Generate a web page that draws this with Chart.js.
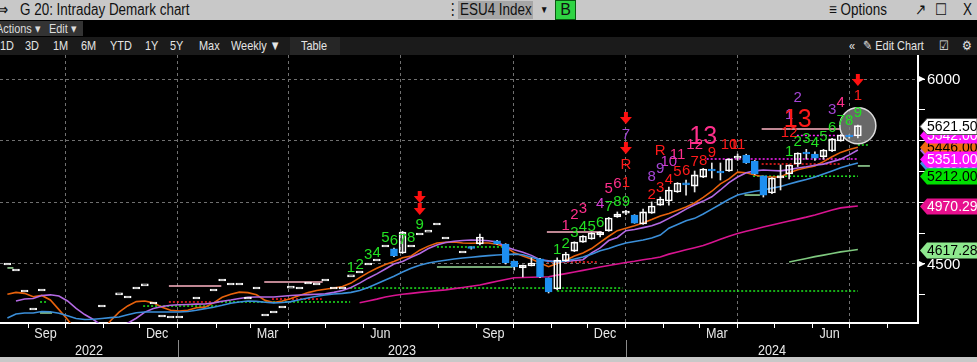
<!DOCTYPE html>
<html>
<head>
<meta charset="utf-8">
<script src="https://cdn.jsdelivr.net/npm/chart.js@4.4.1/dist/chart.umd.min.js"></script>
<style>
  html, body { margin: 0; padding: 0; background: #000; }
  #wrap { position: relative; width: 977px; height: 362px; overflow: hidden; background: #000;
          font-family: "Liberation Sans Narrow", "Liberation Sans", sans-serif; }
  .bar { position: absolute; left: 0; width: 977px; }
  #title { top: 0; height: 20px; background: #c8c8c8; color: #111; font-size: 16px; }
  #menu { top: 20px; height: 17px; background: #000; color: #ddd; font-size: 13px; }
  #tools { top: 37px; height: 18px; background: #1b1b1b; color: #e4e4e4; font-size: 13px; }
  #foot { top: 357px; height: 5px; background: #c8c8c8; }
  .t { position: absolute; white-space: nowrap; line-height: 18px; transform: scaleX(0.84); transform-origin: left center; }
  .box { position: absolute; white-space: nowrap; overflow: hidden; }
  .box span { display: inline-block; transform: scaleX(0.84); transform-origin: left center; }
  #chartBox { position: absolute; left: 0; top: 55px; width: 977px; height: 302px; }
</style>
</head>
<body>
<div id="wrap">
  <div class="bar" id="title">
    <span class="t" style="left:-3px;top:1px">&#8658;</span>
    <span class="t" style="left:20px;top:1px">G 20: Intraday Demark chart</span>
    <span class="t" style="left:446px;top:1px">&#8942;</span>
    <span class="box" style="left:458px;top:1px;width:73px;height:18px;background:#a6a6a6;line-height:18px;padding-left:2px"><span>ESU4 Index</span></span>
    <span class="t" style="left:540px;top:1px;font-size:10px">&#9660;</span>
    <span class="box" style="left:555px;top:0px;width:19px;height:18px;background:#2fd443;border:1px solid #0a5a12;text-align:center;line-height:18px">B</span>
    <span class="t" style="left:829px;top:1px">&#8801; Options</span>
    <span class="t" style="left:915px;top:1px">&#8599;</span>
    <span class="t" style="left:935px;top:1px">&#9744;</span>
    <span class="t" style="left:963px;top:1px">X</span>
  </div>
  <div class="bar" id="menu">
    <span class="box" style="left:-6px;top:1px;width:51px;height:15px;background:#333;line-height:15px;padding-left:2px"><span>Actions &#9662;</span></span>
    <span class="box" style="left:47px;top:1px;width:34px;height:15px;background:#333;line-height:15px;padding-left:2px"><span>Edit &#9662;</span></span>
  </div>
  <div class="bar" id="tools">
    <span class="t" style="left:0px">1D</span>
    <span class="t" style="left:25px">3D</span>
    <span class="t" style="left:53px">1M</span>
    <span class="t" style="left:81px">6M</span>
    <span class="t" style="left:110px">YTD</span>
    <span class="t" style="left:145px">1Y</span>
    <span class="t" style="left:170px">5Y</span>
    <span class="t" style="left:199px">Max</span>
    <span class="t" style="left:231px">Weekly &#9660;</span>
    <span class="box" style="left:290px;top:0;width:50px;height:18px;background:#262626;line-height:18px;padding-left:11px;box-sizing:border-box"><span>Table</span></span>
    <span class="t" style="left:849px">&#171;</span>
    <span class="t" style="left:863px">&#9998; Edit Chart</span>
    <span class="t" style="left:939px">&#9745;</span>
    <span class="t" style="left:962px">&#9881;</span>
  </div>
  <div id="chartBox"><canvas id="c" width="977" height="302"></canvas></div>
  <div class="bar" id="foot"></div>
</div>
<script>
// weekly bars, index 0 = week of 15 Aug 2022, index 99 = week of 8 Jul 2024
const openVals = [
  4492, 4443, 4273, 4127, 4281, null, null, null, null, null,
  null, 4151, null, 4249, 4224, 4297, 4322, 4176, 4070, 4062,
  4062, null, 4216, null, 4281, 4362, 4330, 4330, 4216, 4297,
  4078, 4103, 4143, 4305, 4297, 4338, 4330, 4362, 4297, 4297,
  4395, 4427, 4492, 4524, 4638, 4622, 4589, 4638, 4735, 4759,
  4816, 4703, null, 4589, 4634, 4662, null, 4687, 4662, 4524,
  4468, 4484, 4541, 4387, 4297, 4524, 4605, 4678, 4703, 4735,
  4768, 4881, 4913, 4897, 4824, 4913, 4978, 5011, 5084, 5157,
  5132, 5205, 5270, 5254, 5254, 5359, 5384, 5335, 5214, 5076,
  5197, 5230, 5311, 5400, 5392, 5368, 5416, 5497, 5538, 5538
];
const closeVals = [
  4492, 4443, 4273, 4127, 4281, null, null, null, null, null,
  null, 4151, null, 4249, 4224, 4297, 4322, 4176, 4070, 4062,
  4062, null, 4216, null, 4281, 4362, 4330, 4330, 4216, 4297,
  4078, 4103, 4143, 4305, 4297, 4338, 4330, 4362, 4297, 4297,
  4395, 4427, 4492, 4524, 4638, 4565, 4759, 4638, 4735, 4759,
  4816, 4703, null, 4589, 4626, 4719, null, 4662, 4508, 4476,
  4492, 4508, 4395, 4273, 4532, 4581, 4678, 4727, 4751, 4759,
  4873, 4905, 4913, 4832, 4922, 4970, 5027, 5100, 5157, 5141,
  5222, 5270, 5254, 5238, 5351, 5368, 5319, 5230, 5059, 5197,
  5214, 5303, 5400, 5392, 5359, 5424, 5514, 5546, 5530, 5621.5
];
const highVals = [
  null, null, null, null, null, null, null, null, null, null,
  null, null, null, null, null, null, null, null, null, null,
  null, null, null, null, null, null, null, null, null, null,
  null, null, null, null, null, null, null, null, null, null,
  null, null, null, null, null, 4630, 4765, null, null, null,
  null, null, null, null, 4640, 4743, null, 4692, 4665, 4524,
  4492, 4549, 4545, 4387, 4550, 4595, 4680, 4730, 4755, 4762,
  4878, 4922, 4935, 4900, 4946, 5003, 5043, 5124, 5160, 5181,
  5254, 5275, 5319, 5319, 5355, 5392, 5390, 5340, 5214, 5200,
  5303, 5305, 5402, 5430, 5410, 5430, 5518, 5550, 5546, 5627
];
const lowVals = [
  null, null, null, null, null, null, null, null, null, null,
  null, null, null, null, null, null, null, null, null, null,
  null, null, null, null, null, null, null, null, null, null,
  null, null, null, null, null, null, null, null, null, null,
  null, null, null, null, null, 4560, 4585, null, null, null,
  null, null, null, null, 4620, 4654, null, 4658, 4500, 4451,
  4395, 4484, 4390, 4265, 4290, 4520, 4600, 4675, 4700, 4720,
  4765, 4878, 4900, 4830, 4820, 4910, 4975, 4978, 5080, 5059,
  5084, 5200, 5197, 5181, 5250, 5340, 5315, 5225, 5043, 5070,
  5100, 5190, 5290, 5350, 5340, 5350, 5410, 5495, 5520, 5522
];

// moving averages
const maOrange = [
  4255, 4270, 4262, 4235, 4245, 4208, 4130, 4050, 3960, 3900,
  3880, 3950, 4040, 4110, 4160, 4195, 4200, 4185, 4150, 4125,
  4119, 4125, 4145, 4150, 4185, 4230, 4255, 4272, 4268, 4250,
  4205, 4188, 4200, 4220, 4245, 4268, 4285, 4295, 4305, 4318,
  4345, 4390, 4430, 4465, 4495, 4520, 4550, 4565, 4612, 4645,
  4670, 4675, 4678, 4670, 4668, 4670, 4670, 4660, 4635, 4592,
  4565, 4540, 4508, 4478, 4505, 4530, 4565, 4590, 4625, 4675,
  4725, 4770, 4790, 4810, 4832, 4860, 4890, 4910, 4935, 4962,
  4995, 5040, 5090, 5150, 5190, 5245, 5240, 5222, 5208, 5205,
  5205, 5240, 5265, 5280, 5295, 5330, 5370, 5405, 5428, 5446
];
const maPurple = [
  null, 4200, 4216, 4220, 4245, 4250, 4240, 4200, 4140, 4090,
  4050, 4000, 3980, 3990, 4020, 4060, 4110, 4140, 4155, 4165,
  4170, 4172, 4175, 4176, 4185, 4198, 4208, 4220, 4230, 4232,
  4232, 4232, 4238, 4245, 4249, 4252, 4255, 4258, 4270, 4285,
  4310, 4345, 4385, 4420, 4460, 4500, 4520, 4555, 4585, 4625,
  4654, 4675, 4685, 4690, 4695, 4692, 4688, 4678, 4640, 4615,
  4595, 4570, 4535, 4525, 4518, 4520, 4528, 4535, 4590, 4630,
  4690, 4715, 4770, 4780, 4795, 4810, 4835, 4870, 4905, 4945,
  4980, 5010, 5045, 5100, 5160, 5205, 5240, 5255, 5262, 5258,
  5255, 5265, 5278, 5288, 5300, 5310, 5330, 5350, 5385, 5424
];
const maBlue = [
  4062, 4095, 4103, 4103, 4115, 4113, 4100, 4080, 4058, 4050,
  4052, 4058, 4065, 4070, 4088, 4105, 4111, 4111, 4111, 4111,
  4111, 4115, 4125, 4138, 4150, 4165, 4182, 4192, 4200, 4197,
  4190, 4185, 4188, 4195, 4210, 4224, 4238, 4248, 4257, 4262,
  4270, 4285, 4310, 4340, 4370, 4400, 4435, 4465, 4490, 4508,
  4520, 4530, 4540, 4548, 4555, 4562, 4568, 4573, 4577, 4580,
  4575, 4555, 4535, 4522, 4518, 4525, 4540, 4557, 4580, 4608,
  4625, 4650, 4670, 4683, 4695, 4710, 4735, 4790, 4820, 4850,
  4870, 4905, 4945, 4985, 5025, 5059, 5076, 5090, 5100, 5115,
  5128, 5148, 5168, 5185, 5205, 5230, 5255, 5280, 5300, 5319
];
const maPink = [
  null, null, null, null, null, null, null, null, null, null,
  null, null, null, null, null, null, null, null, null, null,
  null, null, null, null, null, null, null, null, null, null,
  null, null, null, null, null, null, null, null, null, null,
  null, 4186, 4200, 4215, 4232, 4245, 4255, 4262, 4270, 4277,
  4284, 4290, 4300, 4310, 4320, 4330, 4345, 4360, 4375, 4388,
  4390, 4392, 4394, 4396, 4410, 4422, 4435, 4448, 4462, 4475,
  4488, 4500, 4512, 4522, 4535, 4545, 4557, 4580, 4598, 4615,
  4632, 4650, 4675, 4700, 4725, 4748, 4765, 4782, 4800, 4816,
  4832, 4848, 4864, 4880, 4898, 4918, 4938, 4955, 4963, 4970.29
];
const maLightGreen = [
  null, null, null, null, null, null, null, null, null, null,
  null, null, null, null, null, null, null, null, null, null,
  null, null, null, null, null, null, null, null, null, null,
  null, null, null, null, null, null, null, null, null, null,
  null, null, null, null, null, null, null, null, null, null,
  null, null, null, null, null, null, null, null, null, null,
  null, null, null, null, null, null, null, null, null, null,
  null, null, null, null, null, null, null, null, null, null,
  null, null, null, null, null, null, null, null, null, null,
  null, 4516, 4530, 4545, 4560, 4572, 4585, 4598, 4608, 4617.28
];

// TD levels: [from week, to week, price]
const greenDotted = [[3.8, 4.7, 4192], [15.8, 24.4, 4159], [24.4, 39.9, 4192], [39.9, 71.6, 4305],
  [50, 57.7, 4638], [64, 99, 4281], [86.8, 99, 5212], [99, 100.2, 5465]];
const redDotted = [[18.8, 23.9, 4192], [30.8, 36.6, 4216], [62.8, 68.6, 4516], [87.8, 96.9, 5311]];
const magentaDotted = [[81.4, 99, 5351], [91.9, 99, 5542]];
const pinkSolid = [[18.8, 24.9, 4322], [29.9, 36.7, 4354], [62.8, 69.2, 4759], [87.8, 96.9, 5595]];
const lightGreenSolid = [[0, 0.7, 4468], [3.8, 5.2, 4103], [50, 58.8, 4476], [85.8, 87.6, 5059], [99, 100.4, 5295]];

// TD counts: [week, text, price]
const setupLabels = [[40,'1',4468],[41,'2',4492],[42,'3',4573],[43,'4',4589],[44,'5',4711],[45,'6',4687],
  [46,'7',4695],[47,'8',4711],[48,'9',4816],
  [64,'1',4613],[65,'2',4662],[66,'3',4751],[67,'4',4800],[68,'5',4800],[69,'6',4832],[70,'7',4962],
  [71,'8',5003],[72,'9',5003],
  [91,'1',5408],[92,'2',5489],[93,'3',5514],[94,'4',5481],[95,'5',5530],[96,'6',5603],[97,'7',5659],
  [98,'8',5659],[99,'9',5724]];
const pinkLabels = [[65,'1',4808],[66,'2',4897],[67,'3',4946],[70,'5',5108],[71,'6',5149],[78,'11',5384],
  [80,'12',5465],[97,'4',5805]];
const magentaLabels = [[69,'4',4986],[77,'10',5327]];
const purpleLabels = [[72,'7',5546],[75,'8',5205],[76,'9',5270],[91,'1',5708],[92,'2',5846],[96,'3',5749]];
const redLabels = [[72,'1',5157],[72,'R',5303],[75,'2',5059],[76,'3',5116],[76,'R',5416],[77,'4',5181],
  [78,'5',5246],[79,'6',5254],[80,'7',5327],[81,'8',5335],[82,'9',5400],[84,'10',5465],[85,'11',5465],
  [91,'12',5562],[99,'1',5862]];
const bigPinkLabels = [[81,'13',5530]];
const bigRedLabels = [[92,'13',5668]];
const arrowMarks = [[48,5043],[48,4946],[72,5441],[72,5684],[99,5992]];

// right-hand price tags, drawn in this order (later ones on top)
const tagValues = [5424, 5319, 5446, 5542, 5351, 5212, 4970.29, 4617.28, 5621.5];
const tagColors = ['#b06ae0', '#3a8fe0', '#f06a10', '#ff14ff', '#ff14ff', '#00e000', '#e8108e', '#8ee88e', '#ffffff'];
const tagText = ['#fff', '#fff', '#000', '#fff', '#fff', '#000', '#fff', '#000', '#000'];

const yTickLabels = [6000, 4500];
const monthLabels = [['Sep', 2022, 8], ['Dec', 2022, 11], ['Mar', 2023, 2], ['Jun', 2023, 5],
  ['Sep', 2023, 8], ['Dec', 2023, 11], ['Mar', 2024, 2], ['Jun', 2024, 5]];
const yearLabels = [2022, 2023, 2024];

const weekStart = Date.UTC(2022, 7, 15);
const weekPos = (y, m, d) => (Date.UTC(y, m, d) - weekStart) / (7 * 864e5);

// x ticks: a mark at each month start, grid at quarter starts
const xTicks = [];
for (let y = 2022; y <= 2024; y++) {
  for (let m = 0; m < 12; m++) {
    const v = weekPos(y, m, 1);
    if (v < -0.86 || v > 106) continue;
    xTicks.push({ value: v, quarter: m % 3 === 0 });
  }
}

const SANS = '"Liberation Sans", Arial, sans-serif';

const series = arr => arr.map((v, i) => v == null ? null : { x: i, y: v }).filter(Boolean);
const bodies = closeVals.map((c, i) => c == null ? null : { x: i, y: [openVals[i], c] }).filter(Boolean);
const wicks = highVals.map((h, i) => h == null ? null : { x: i, y: [lowVals[i], h] }).filter(Boolean);
const isUp = ctx => ctx.raw && ctx.raw.y[1] >= ctx.raw.y[0];

const levelSets = (list, color, dash, width) => list.map(([a, b, v]) => ({
  type: 'line', data: [{ x: a, y: v }, { x: b, y: v }], borderColor: color, borderWidth: width,
  borderDash: dash, pointRadius: 0, order: 10
}));
const maSet = (arr, color) => ({
  type: 'line', data: series(arr), borderColor: color, borderWidth: 1.6, pointRadius: 0, tension: 0, order: 8
});

// condensed text on canvas
const narrowText = (ctx, text, x, y, size) => {
  ctx.save();
  ctx.font = size + 'px ' + SANS;
  ctx.translate(x, y);
  ctx.scale(0.84, 1);
  ctx.fillText(text, 0, 0);
  ctx.restore();
};

const overlay = {
  id: 'overlay',
  afterDatasetsDraw(chart) {
    const { ctx, scales: { x, y } } = chart;
    ctx.save();
    ctx.textAlign = 'center';
    ctx.textBaseline = 'middle';
    const texts = (list, color, size) => {
      ctx.fillStyle = color;
      ctx.font = size + 'px ' + SANS;
      list.forEach(([i, t, v]) => ctx.fillText(t, x.getPixelForValue(i), y.getPixelForValue(v)));
    };
    texts(setupLabels, '#22e022', 15);
    texts(pinkLabels, '#ff2f8c', 15);
    texts(magentaLabels, '#d23cd2', 15);
    texts(purpleLabels, '#a546d6', 15);
    texts(redLabels, '#ff1a1a', 15);
    texts(bigPinkLabels, '#ff2f8c', 25);
    texts(bigRedLabels, '#ff1a1a', 25);
    // red TD arrows
    ctx.fillStyle = '#ff1010';
    arrowMarks.forEach(([i, v]) => {
      const cx = x.getPixelForValue(i), cy = y.getPixelForValue(v);
      ctx.fillRect(cx - 2, cy - 6, 4, 5);
      ctx.beginPath();
      ctx.moveTo(cx - 6, cy - 1);
      ctx.lineTo(cx + 6, cy - 1);
      ctx.lineTo(cx, cy + 6);
      ctx.closePath();
      ctx.fill();
    });
    ctx.restore();
  },
  afterDraw(chart) {
    const { ctx, chartArea, scales: { x, y } } = chart;
    const W = chart.width, H = chart.height;
    ctx.save();
    // y tick labels with pointers
    ctx.fillStyle = '#fff';
    ctx.textAlign = 'left';
    ctx.textBaseline = 'middle';
    yTickLabels.forEach(v => {
      const py = y.getPixelForValue(v);
      ctx.beginPath();
      ctx.moveTo(chartArea.right + 1, py - 3);
      ctx.lineTo(chartArea.right + 7, py);
      ctx.lineTo(chartArea.right + 1, py + 3);
      ctx.closePath();
      ctx.fill();
      ctx.font = '15px ' + SANS;
      ctx.fillText(String(v), chartArea.right + 9, py + 1);
    });
    // price tags
    ctx.font = '14px ' + SANS;
    tagValues.forEach((v, k) => {
      const py = Math.round(y.getPixelForValue(v)) + 0.5;
      const x0 = chartArea.right + 2;
      ctx.beginPath();
      ctx.moveTo(x0, py);
      ctx.lineTo(x0 + 7, py - 8);
      ctx.lineTo(W, py - 8);
      ctx.lineTo(W, py + 8);
      ctx.lineTo(x0 + 7, py + 8);
      ctx.closePath();
      ctx.fillStyle = tagColors[k];
      ctx.fill();
      if (tagColors[k] === '#ffffff') {
        ctx.strokeStyle = '#555';
        ctx.lineWidth = 1;
        ctx.stroke();
      }
      ctx.fillStyle = tagText[k];
      ctx.fillText(v.toFixed(2), x0 + 7, py + 1);
    });
    // month labels
    ctx.fillStyle = '#e8e8e8';
    ctx.textAlign = 'left';
    monthLabels.forEach(([n, yr, m]) => {
      const px = x.getPixelForValue(weekPos(yr, m, 15));
      ctx.font = '15px ' + SANS;
      const w = ctx.measureText(n).width * 0.84;
      narrowText(ctx, n, px - w / 2, chartArea.bottom + 11, 15);
    });
    // year row
    const b1 = x.getPixelForValue(weekPos(2023, 0, 1));
    const b2 = x.getPixelForValue(weekPos(2024, 0, 1));
    ctx.strokeStyle = '#8a8a8a';
    ctx.lineWidth = 1;
    [b1, b2].forEach(px => {
      ctx.beginPath();
      ctx.moveTo(Math.round(px) + 0.5, chartArea.bottom + 17);
      ctx.lineTo(Math.round(px) + 0.5, H);
      ctx.stroke();
    });
    const spans = [[chartArea.left, b1], [b1, b2], [b2, chartArea.right]];
    yearLabels.forEach((yr, k) => {
      ctx.font = '15px ' + SANS;
      const w = ctx.measureText(String(yr)).width * 0.84;
      narrowText(ctx, String(yr), (spans[k][0] + spans[k][1]) / 2 - w / 2, chartArea.bottom + 28, 15);
    });
    ctx.restore();
  }
};

new Chart(document.getElementById('c'), {
  type: 'bar',
  data: {
    datasets: [
      ...levelSets(greenDotted, '#1ee61e', [2, 2], 1.5),
      ...levelSets(redDotted, '#ff2020', [2, 2], 1.5),
      ...levelSets(magentaDotted, '#ff22ff', [2, 2], 1.5),
      ...levelSets(pinkSolid, '#ffb4c4', [], 1.5),
      ...levelSets(lightGreenSolid, '#9ee09e', [], 1.5),
      maSet(maPink, '#d81490'),
      maSet(maLightGreen, '#7fc97f'),
      maSet(maBlue, '#3b8fd9'),
      maSet(maPurple, '#b46ae4'),
      maSet(maOrange, '#e8620c'),
      {
        type: 'line', data: [{ x: closeVals.length - 1, y: closeVals[closeVals.length - 1] }],
        showLine: false, pointRadius: 18, backgroundColor: 'rgba(130,130,130,0.8)',
        borderColor: '#dcdcdc', borderWidth: 1.5, order: 7
      },
      {
        data: wicks, backgroundColor: '#e6e6e6', barThickness: 1, grouped: false, order: 6
      },
      {
        data: bodies, grouped: false, barThickness: 7, minBarLength: 2, borderSkipped: false, borderWidth: 1,
        backgroundColor: ctx => isUp(ctx) ? 'rgba(0,0,0,0)' : '#1e8ff0',
        borderColor: ctx => isUp(ctx) ? '#ffffff' : '#1e8ff0',
        order: 5
      }
    ]
  },
  options: {
    responsive: false,
    animation: false,
    devicePixelRatio: 1,
    layout: { padding: 0, autoPadding: false },
    plugins: { legend: { display: false }, tooltip: { enabled: false } },
    scales: {
      x: {
        type: 'linear', min: -0.86, max: 106, offset: false,
        afterBuildTicks: s => { s.ticks = xTicks.map(t => ({ ...t })); },
        afterFit: s => { s.height = 34; s.paddingLeft = 0; s.paddingRight = 0; },
        ticks: { autoSkip: false, maxRotation: 0, display: false },
        grid: {
          offset: false, tickLength: 5,
          color: c => c.tick && c.tick.quarter ? '#707070' : 'rgba(0,0,0,0)',
          tickColor: '#ffffff'
        },
        border: { color: '#ffffff', width: 2, dash: [3, 3] }
      },
      y: {
        position: 'right', min: 4021.6, max: 6194.6,
        afterBuildTicks: s => { s.ticks = s.ticks.filter(t => t.value % 250 === 0); },
        afterFit: s => { s.width = 59; s.paddingTop = 0; s.paddingBottom = 0; },
        ticks: { stepSize: 250, autoSkip: false, display: false },
        grid: {
          tickLength: 7,
          color: c => c.tick && c.tick.value % 500 === 0 ? '#707070' : 'rgba(0,0,0,0)',
          tickColor: '#ffffff'
        },
        border: { color: '#ffffff', width: 2, dash: [3, 3] }
      }
    }
  },
  plugins: [overlay]
});
</script>
</body>
</html>
